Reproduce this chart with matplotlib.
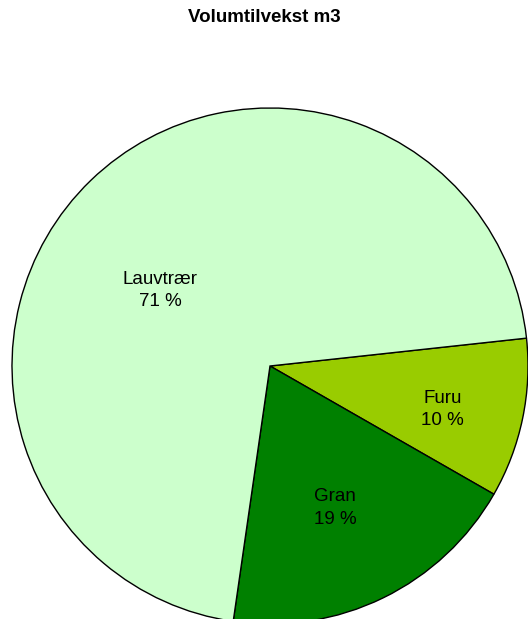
import numpy as np
import matplotlib.pyplot as plt

plt.rcParams['font.family'] = ['Liberation Sans', 'DejaVu Sans']

labels = ['Furu', 'Gran', 'Lauvtrær']
values = [10, 19, 71]
colors = ['#99CC00', '#008000', '#CCFFCC']
# label placement: (fraction of radius, angle in degrees)
label_pos = [(0.69, -14.2), (0.605, -65.4), (0.518, 145.4)]

fig = plt.figure(figsize=(5.28, 6.19), dpi=100)
# pie centre at (270, 366) px, radius 258 px
ax = fig.add_axes([12 / 528, (619 - 366 - 258) / 619, 516 / 528, 516 / 619])

wedges, _ = ax.pie(values, colors=colors, startangle=6.2, counterclock=False,
                   radius=1, wedgeprops=dict(edgecolor='black', linewidth=1.0))
for w in wedges:
    w.set_clip_on(False)
ax.set_xlim(-1, 1)
ax.set_ylim(-1, 1)
ax.set_aspect('equal')
ax.axis('off')

total = sum(values)
for lab, v, (r, ang) in zip(labels, values, label_pos):
    a = np.deg2rad(ang)
    ax.text(r * np.cos(a), r * np.sin(a), f'{lab}\n{round(100 * v / total)} %',
            ha='center', va='center', fontsize=13.5, linespacing=1.4)

fig.text(0.5, 1 - 18 / 619, 'Volumtilvekst m3', ha='center', va='center',
         fontsize=13.5, fontweight='bold')

fig.savefig('out.png', dpi=100)
